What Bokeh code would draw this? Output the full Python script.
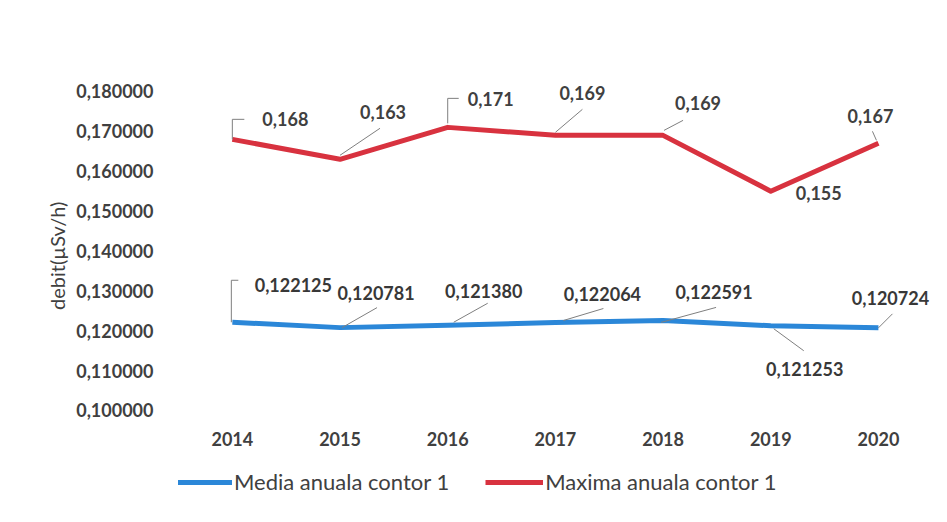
from bokeh.plotting import figure
from bokeh.layouts import column
from bokeh.models import FixedTicker, Legend, LegendItem, ColumnDataSource, Range1d
from bokeh.core.properties import value
from bokeh.embed import file_html
from bokeh.resources import INLINE

# ---------------- data ----------------
years = [2014, 2015, 2016, 2017, 2018, 2019, 2020]
media = [0.122125, 0.120781, 0.121380, 0.122064, 0.122591, 0.121253, 0.120724]
maxima = [0.168, 0.163, 0.171, 0.169, 0.169, 0.155, 0.167]
media_labels = ["0,122125", "0,120781", "0,121380", "0,122064", "0,122591", "0,121253", "0,120724"]
maxima_labels = ["0,168", "0,163", "0,171", "0,169", "0,169", "0,155", "0,167"]
y_ticks = [0.10, 0.11, 0.12, 0.13, 0.14, 0.15, 0.16, 0.17, 0.18]
y_tick_labels = ["0,100000", "0,110000", "0,120000", "0,130000", "0,140000",
                 "0,150000", "0,160000", "0,170000", "0,180000"]
series_names = ["Media anuala contor 1", "Maxima anuala contor 1"]
y_axis_title = "debit(\u00b5Sv/h)"

# ---------------- styles (pixel offsets of labels / leader lines, screen y down) ----------------
max_dx = [53, 43, 43, 27, 35, 48, -8]
max_dy = [-20, -47, -28, -42, -32, 2, -27]
max_leaders = [
    [(0, 0), (0, -20), (12, -20)],
    [(0, -4), (40, -31)],
    [(0, -4), (0, -29), (11, -29)],
    [(0, -3), (27, -26)],
    [(1, -5), (20, -15)],
    None,
    [(-2, -3), (-6, -12)],
]
med_dx = [61, 36, 36, 47, 51, 34, 12]
med_dy = [-37, -35, -34, -29, -28, 43, -30]
med_leaders = [
    [(-1, 0), (-1, -42), (6, -42)],
    [(2, 0), (37, -20)],
    [(6, -3), (40, -22)],
    [(8, -2), (48, -14)],
    [(-2, 2), (53, -13)],
    [(3, 3), (33, 25)],
    [(0, 0), (14, -14)],
]

FW, FH = 761, 360
X0, X1 = 2013.5, 2020.567
Y0, Y1 = 0.09749, 0.18777
pxx = FW / (X1 - X0)
pxy = FH / (Y1 - Y0)

BLUE = "#2B87D8"
RED = "#D8323F"
TXT = "#404040"
FONT = "Lato"

p = figure(frame_width=FW, frame_height=FH,
           min_border_left=178, min_border_right=0,
           min_border_top=60, min_border_bottom=36,
           x_range=Range1d(X0, X1), y_range=Range1d(Y0, Y1),
           output_backend="svg", toolbar_location=None,
           background_fill_color="white", border_fill_color="white")
p.outline_line_color = None
p.grid.visible = False

# axes
p.xaxis.ticker = FixedTicker(ticks=years)
p.yaxis.ticker = FixedTicker(ticks=y_ticks)
p.yaxis.major_label_overrides = {t: l for t, l in zip(y_ticks, y_tick_labels)}
for ax in (p.xaxis[0], p.yaxis[0]):
    ax.axis_line_color = None
    ax.major_tick_line_color = None
    ax.minor_tick_line_color = None
    ax.major_label_text_font = FONT
    ax.major_label_text_font_style = "bold"
    ax.major_label_text_font_size = "18px"
    ax.major_label_text_color = TXT
p.yaxis.major_label_standoff = 19
p.xaxis.major_label_standoff = 5
p.yaxis.axis_label = y_axis_title + "\u00a0" * 6
p.yaxis.axis_label_text_font = FONT
p.yaxis.axis_label_text_font_style = "normal"
p.yaxis.axis_label_text_font_size = "20px"
p.yaxis.axis_label_text_color = "#404040"
p.yaxis.axis_label_standoff = 4

src = ColumnDataSource(dict(x=years, med=media, mx=maxima,
                            med_lab=media_labels, mx_lab=maxima_labels,
                            med_dx=med_dx, med_dy=med_dy,
                            mx_dx=max_dx, mx_dy=max_dy))

p.line("x", "med", source=src, line_color=BLUE, line_width=5, line_join="round")
p.line("x", "mx", source=src, line_color=RED, line_width=5, line_join="round")


def leader_coords(xs, ys, leaders):
    lx, ly = [], []
    for x, y, L in zip(xs, ys, leaders):
        if not L:
            continue
        lx.append([x + dx / pxx for dx, dy in L])
        ly.append([y - dy / pxy for dx, dy in L])
    return lx, ly


for vals, leaders in ((maxima, max_leaders), (media, med_leaders)):
    lx, ly = leader_coords(years, vals, leaders)
    p.multi_line(lx, ly, line_color="#7f7f7f", line_width=1)

p.text("x", "mx", text="mx_lab", source=src, x_offset="mx_dx", y_offset="mx_dy",
       text_align="center", text_baseline="middle", text_font=value(FONT),
       text_font_style="bold", text_font_size="18px", text_color=TXT)
p.text("x", "med", text="med_lab", source=src, x_offset="med_dx", y_offset="med_dy",
       text_align="center", text_baseline="middle", text_font=value(FONT),
       text_font_style="bold", text_font_size="18px", text_color="#383838")

# ---------------- legend strip (separate figure so it is not clipped) ----------------
lg = figure(width=FW + 178, height=50, x_range=Range1d(0, 1), y_range=Range1d(0, 1),
            min_border=0, output_backend="svg", toolbar_location=None,
            background_fill_color="white", border_fill_color="white")
lg.outline_line_color = None
lg.grid.visible = False
lg.axis.visible = False
# same series, drawn outside this strip's visible range: only their legend swatches show
k_med = lg.line("x", "med", source=src, line_color=BLUE, line_width=5)
k_max = lg.line("x", "mx", source=src, line_color=RED, line_width=5)

legend = Legend(items=[LegendItem(label=series_names[0], renderers=[k_med]),
                       LegendItem(label=series_names[1], renderers=[k_max])],
                orientation="horizontal", location=(-4, 11),
                glyph_width=58, glyph_height=20, label_standoff=2, spacing=36,
                label_text_font=FONT, label_text_font_size="22px",
                label_text_color=TXT, border_line_color=None,
                background_fill_alpha=0, margin=0, padding=4)
lg.add_layout(legend)

open("out.html", "w").write(file_html(column(p, lg, spacing=0), INLINE))
